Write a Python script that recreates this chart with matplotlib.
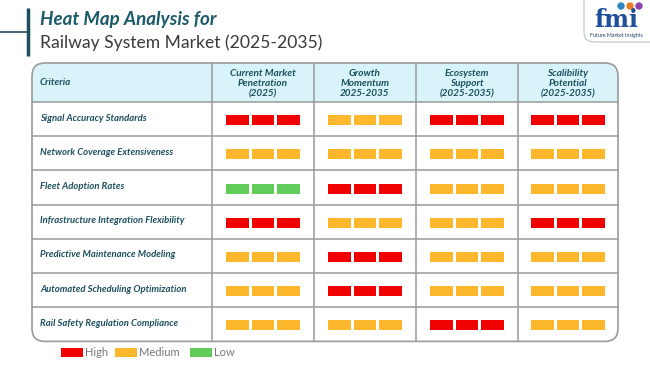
import matplotlib
matplotlib.use('Agg')
from matplotlib import pyplot as plt
from matplotlib.patches import FancyBboxPatch, Rectangle
import numpy as np

# table content
criteria = ['Signal Accuracy Standards',
            'Network Coverage Extensiveness',
            'Fleet Adoption Rates',
            'Infrastructure Integration Flexibility',
            'Predictive Maintenance Modeling',
            'Automated Scheduling Optimization',
            'Rail Safety Regulation Compliance']
headers = ['Current Market\nPenetration\n(2025)',
           'Growth\nMomentum\n2025-2035',
           'Ecosystem\nSupport\n(2025-2035)',
           'Scalibility\nPotential\n(2025-2035)']
# H = high, M = medium, L = low
ratings = [['H', 'M', 'H', 'H'],
           ['M', 'M', 'M', 'M'],
           ['L', 'H', 'M', 'M'],
           ['H', 'M', 'M', 'H'],
           ['M', 'H', 'M', 'M'],
           ['M', 'H', 'M', 'M'],
           ['M', 'M', 'H', 'M']]
legend_labels = ['High', 'Medium', 'Low']
legend_keys = ['H', 'M', 'L']

colors = {'H': '#F00000', 'M': '#FDB72C', 'L': '#62CC5A'}
teal = '#1B4F5E'
grid = '#9A9A9A'

plt.rcParams['font.family'] = ['Lato', 'DejaVu Sans']

W, H = 650, 365
fig = plt.figure(figsize=(6.5, 3.65), dpi=100)
ax = fig.add_axes([0, 0, 1, 1])
ax.set_xlim(0, W)
ax.set_ylim(H, 0)
ax.axis('off')

# title block
ax.plot([28, 28], [8, 56], color=teal, lw=2.5, solid_capstyle='butt')
ax.plot([0, 28], [32, 32], color=teal, lw=1.2)
ax.text(40, 19, 'Heat Map Analysis for', fontsize=13.5, fontweight='bold',
        style='italic', color='#1B5A6B', va='center')
ax.text(40, 43, 'Railway System Market (2025-2035)', fontsize=12.6,
        color='#3A3A3A', va='center')

# logo
ax.add_patch(FancyBboxPatch((584, -20), 90, 62,
                            boxstyle='round,pad=0,rounding_size=10',
                            fc='white', ec='#B8C4CC', lw=0.8))
ax.text(616, 20, 'fmi', fontsize=17, fontweight='bold', color='#1F4E9A',
        ha='center', va='center', family='DejaVu Serif')
for cx, c in zip([621, 630, 639], ['#2E86C1', '#E67E22', '#8E44AD']):
    ax.add_patch(plt.Circle((cx, 6), 3, color=c))
ax.text(616, 35, 'Future Market Insights', fontsize=3.8, color='#1F3F6A',
        ha='center', va='center')

# table geometry
x0, x1 = 32, 618
y0, yh = 63, 102
row_h = 34.2
col_edges = [x0, 212, 314, 416, 518, x1]
y1 = yh + row_h * len(criteria)

# header background (clip to rounded frame)
frame = FancyBboxPatch((x0, y0), x1 - x0, y1 - y0,
                       boxstyle='round,pad=0,rounding_size=13',
                       fc='white', ec='none', zorder=1)
ax.add_patch(frame)
hdr = Rectangle((x0, y0), x1 - x0, yh - y0, fc='#D8F4FA', ec='none', zorder=2)
ax.add_patch(hdr)
hdr.set_clip_path(frame)

# grid lines
for i in range(len(criteria)):
    y = yh + i * row_h
    ax.plot([x0, x1], [y, y], color=grid, lw=1.1, zorder=3)
for x in col_edges[1:-1]:
    ax.plot([x, x], [y0, y1], color=grid, lw=1.1, zorder=3)
ax.add_patch(FancyBboxPatch((x0, y0), x1 - x0, y1 - y0,
                            boxstyle='round,pad=0,rounding_size=13',
                            fc='none', ec=grid, lw=1.2, zorder=4))

# header text
ax.text(x0 + 8, (y0 + yh) / 2, 'Criteria', fontsize=7, style='italic',
        fontweight='bold', color=teal, va='center', zorder=5)
for j, h in enumerate(headers):
    cx = (col_edges[j + 1] + col_edges[j + 2]) / 2
    ax.text(cx, (y0 + yh) / 2 + 1, h, fontsize=7.2, style='italic',
            fontweight='bold', color=teal, ha='center', va='center',
            linespacing=1.15, zorder=5)

# rows
bw, bh, gap = 22.5, 10, 2.8
for i, name in enumerate(criteria):
    cy = yh + (i + 0.5) * row_h
    ax.text(x0 + 8, cy - 1, name, fontsize=6.8, style='italic',
            fontweight='bold', color=teal, va='center', zorder=5)
    for j, r in enumerate(ratings[i]):
        cx = (col_edges[j + 1] + col_edges[j + 2]) / 2
        for k in range(3):
            bx = cx + (k - 1) * (bw + gap) - bw / 2
            ax.add_patch(Rectangle((bx, cy - bh / 2 + 1), bw, bh,
                                   fc=colors[r], ec='none', zorder=5))

# legend
lx = 61
for lab, key in zip(legend_labels, legend_keys):
    ax.add_patch(Rectangle((lx, 348), 22, 9, fc=colors[key], ec='none'))
    ax.text(lx + 24, 353, lab, fontsize=8, color='#777777', va='center')
    lx += {'High': 54, 'Medium': 75, 'Low': 0}[lab]

fig.savefig('out.png', dpi=100)
